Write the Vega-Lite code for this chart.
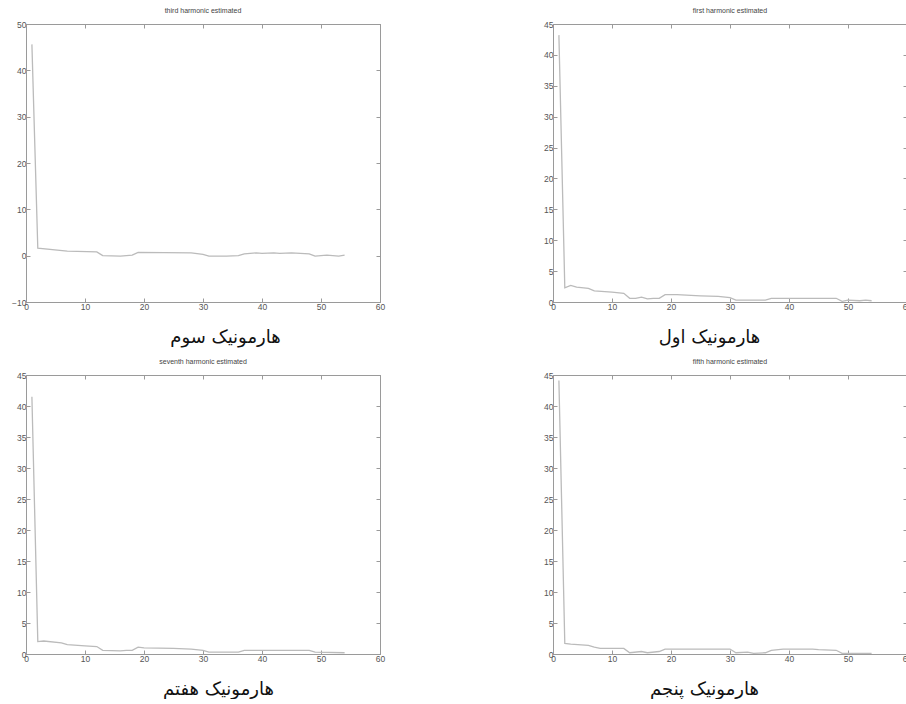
{
  "$schema": "https://vega.github.io/schema/vega-lite/v6.json",
  "background": "white",
  "padding": {"top": 6, "left": 1, "right": 0, "bottom": 0},
  "spacing": 10,
  "config": {
    "view": {"stroke": "#9a9a9a"},
    "axis": {"grid": false, "domainColor": "#9a9a9a", "tickColor": "#9a9a9a", "tickSize": -4, "labelFlush": false, "labelColor": "#555555", "labelFont": "Liberation Sans", "labelFontSize": 8.5, "titleFont": "DejaVu Sans", "titleFontSize": 18, "titleFontWeight": "normal", "titleColor": "#111111"},
    "title": {"font": "Liberation Sans", "fontSize": 7, "fontWeight": "normal", "color": "#444444", "offset": 6}
  },
  "vconcat": [
    {
      "spacing": 142,
      "hconcat": [
        {
          "title": "third harmonic estimated",
          "width": 354, "height": 278,
          "data": {"values": [
            {"n": 1, "v": 45.6}, {"n": 2, "v": 1.6}, {"n": 7, "v": 1.0}, {"n": 12, "v": 0.8}, {"n": 13, "v": 0.0}, {"n": 16, "v": -0.1}, {"n": 18, "v": 0.1}, {"n": 19, "v": 0.7}, {"n": 28, "v": 0.6}, {"n": 30, "v": 0.3}, {"n": 31, "v": -0.1}, {"n": 34, "v": -0.1}, {"n": 36, "v": 0.0}, {"n": 37, "v": 0.4}, {"n": 39, "v": 0.6}, {"n": 40, "v": 0.5}, {"n": 42, "v": 0.6}, {"n": 43, "v": 0.5}, {"n": 45, "v": 0.6}, {"n": 48, "v": 0.4}, {"n": 49, "v": -0.1}, {"n": 51, "v": 0.1}, {"n": 53, "v": -0.1}, {"n": 54, "v": 0.1}
          ]},
          "layer": [
            {"mark": {"type": "line", "color": "#bbbbbb", "strokeWidth": 1.3},
             "encoding": {
               "x": {"field": "n", "type": "quantitative", "scale": {"domain": [0, 60], "nice": false, "zero": false}, "axis": {"orient": "bottom", "values": [0, 10, 20, 30, 40, 50, 60], "labelPadding": 4, "title": "هارمونیک سوم", "titlePadding": 18, "titleX": 199}},
               "y": {"field": "v", "type": "quantitative", "scale": {"domain": [-10, 50], "nice": false, "zero": false}, "axis": {"orient": "left", "values": [-10, 0, 10, 20, 30, 40, 50], "labelPadding": 4, "title": null, "minExtent": 24, "maxExtent": 24}}
             }},
            {"mark": {"type": "line", "opacity": 0},
             "encoding": {
               "x": {"field": "n", "type": "quantitative", "axis": {"orient": "top", "values": [0, 10, 20, 30, 40, 50, 60], "labels": false, "title": null, "minExtent": 0, "maxExtent": 0}},
               "y": {"field": "v", "type": "quantitative", "axis": {"orient": "right", "values": [-10, 0, 10, 20, 30, 40, 50], "labels": false, "title": null, "minExtent": 0, "maxExtent": 0}}
             }}
          ],
          "resolve": {"axis": {"x": "independent", "y": "independent"}}
        },
        {
          "title": "first harmonic estimated",
          "width": 354, "height": 278,
          "data": {"values": [
            {"n": 1, "v": 43.2}, {"n": 2, "v": 2.3}, {"n": 3, "v": 2.7}, {"n": 4, "v": 2.4}, {"n": 6, "v": 2.2}, {"n": 7, "v": 1.8}, {"n": 10, "v": 1.6}, {"n": 12, "v": 1.4}, {"n": 13, "v": 0.6}, {"n": 14, "v": 0.6}, {"n": 15, "v": 0.8}, {"n": 16, "v": 0.5}, {"n": 17, "v": 0.6}, {"n": 18, "v": 0.6}, {"n": 19, "v": 1.2}, {"n": 21, "v": 1.2}, {"n": 25, "v": 1.0}, {"n": 28, "v": 0.9}, {"n": 30, "v": 0.7}, {"n": 31, "v": 0.3}, {"n": 36, "v": 0.3}, {"n": 37, "v": 0.6}, {"n": 48, "v": 0.6}, {"n": 49, "v": 0.1}, {"n": 50, "v": 0.3}, {"n": 52, "v": 0.2}, {"n": 53, "v": 0.3}, {"n": 54, "v": 0.2}
          ]},
          "layer": [
            {"mark": {"type": "line", "color": "#bbbbbb", "strokeWidth": 1.3},
             "encoding": {
               "x": {"field": "n", "type": "quantitative", "scale": {"domain": [0, 60], "nice": false, "zero": false}, "axis": {"orient": "bottom", "values": [0, 10, 20, 30, 40, 50, 60], "labelPadding": 4, "title": "هارمونیک اول", "titlePadding": 18, "titleX": 156}},
               "y": {"field": "v", "type": "quantitative", "scale": {"domain": [0, 45], "nice": false, "zero": false}, "axis": {"orient": "left", "values": [0, 5, 10, 15, 20, 25, 30, 35, 40, 45], "labelPadding": 4, "title": null, "minExtent": 24, "maxExtent": 24}}
             }},
            {"mark": {"type": "line", "opacity": 0},
             "encoding": {
               "x": {"field": "n", "type": "quantitative", "axis": {"orient": "top", "values": [0, 10, 20, 30, 40, 50, 60], "labels": false, "title": null, "minExtent": 0, "maxExtent": 0}},
               "y": {"field": "v", "type": "quantitative", "axis": {"orient": "right", "values": [0, 5, 10, 15, 20, 25, 30, 35, 40, 45], "labels": false, "title": null, "minExtent": 0, "maxExtent": 0}}
             }}
          ],
          "resolve": {"axis": {"x": "independent", "y": "independent"}}
        }
      ]
    },
    {
      "spacing": 142,
      "hconcat": [
        {
          "title": "seventh harmonic estimated",
          "width": 354, "height": 279,
          "data": {"values": [
            {"n": 1, "v": 41.5}, {"n": 2, "v": 2.0}, {"n": 3, "v": 2.1}, {"n": 6, "v": 1.8}, {"n": 7, "v": 1.5}, {"n": 10, "v": 1.3}, {"n": 12, "v": 1.2}, {"n": 13, "v": 0.6}, {"n": 16, "v": 0.5}, {"n": 17, "v": 0.6}, {"n": 18, "v": 0.6}, {"n": 19, "v": 1.1}, {"n": 20, "v": 1.0}, {"n": 25, "v": 0.9}, {"n": 28, "v": 0.8}, {"n": 30, "v": 0.6}, {"n": 31, "v": 0.3}, {"n": 36, "v": 0.3}, {"n": 37, "v": 0.6}, {"n": 48, "v": 0.6}, {"n": 49, "v": 0.3}, {"n": 54, "v": 0.2}
          ]},
          "layer": [
            {"mark": {"type": "line", "color": "#bbbbbb", "strokeWidth": 1.3},
             "encoding": {
               "x": {"field": "n", "type": "quantitative", "scale": {"domain": [0, 60], "nice": false, "zero": false}, "axis": {"orient": "bottom", "values": [0, 10, 20, 30, 40, 50, 60], "labelPadding": 4, "title": "هارمونیک هفتم", "titlePadding": 18, "titleX": 192}},
               "y": {"field": "v", "type": "quantitative", "scale": {"domain": [0, 45], "nice": false, "zero": false}, "axis": {"orient": "left", "values": [0, 5, 10, 15, 20, 25, 30, 35, 40, 45], "labelPadding": 4, "title": null, "minExtent": 24, "maxExtent": 24}}
             }},
            {"mark": {"type": "line", "opacity": 0},
             "encoding": {
               "x": {"field": "n", "type": "quantitative", "axis": {"orient": "top", "values": [0, 10, 20, 30, 40, 50, 60], "labels": false, "title": null, "minExtent": 0, "maxExtent": 0}},
               "y": {"field": "v", "type": "quantitative", "axis": {"orient": "right", "values": [0, 5, 10, 15, 20, 25, 30, 35, 40, 45], "labels": false, "title": null, "minExtent": 0, "maxExtent": 0}}
             }}
          ],
          "resolve": {"axis": {"x": "independent", "y": "independent"}}
        },
        {
          "title": "fifth harmonic estimated",
          "width": 354, "height": 279,
          "data": {"values": [
            {"n": 1, "v": 44.1}, {"n": 2, "v": 1.7}, {"n": 3, "v": 1.6}, {"n": 6, "v": 1.4}, {"n": 7, "v": 1.1}, {"n": 8, "v": 0.9}, {"n": 12, "v": 0.9}, {"n": 13, "v": 0.2}, {"n": 15, "v": 0.4}, {"n": 16, "v": 0.2}, {"n": 18, "v": 0.4}, {"n": 19, "v": 0.8}, {"n": 24, "v": 0.8}, {"n": 30, "v": 0.8}, {"n": 31, "v": 0.2}, {"n": 33, "v": 0.3}, {"n": 34, "v": 0.1}, {"n": 36, "v": 0.2}, {"n": 37, "v": 0.6}, {"n": 39, "v": 0.8}, {"n": 44, "v": 0.8}, {"n": 45, "v": 0.7}, {"n": 48, "v": 0.6}, {"n": 49, "v": 0.1}, {"n": 54, "v": 0.1}
          ]},
          "layer": [
            {"mark": {"type": "line", "color": "#bbbbbb", "strokeWidth": 1.3},
             "encoding": {
               "x": {"field": "n", "type": "quantitative", "scale": {"domain": [0, 60], "nice": false, "zero": false}, "axis": {"orient": "bottom", "values": [0, 10, 20, 30, 40, 50, 60], "labelPadding": 4, "title": "هارمونیک پنجم", "titlePadding": 18, "titleX": 151}},
               "y": {"field": "v", "type": "quantitative", "scale": {"domain": [0, 45], "nice": false, "zero": false}, "axis": {"orient": "left", "values": [0, 5, 10, 15, 20, 25, 30, 35, 40, 45], "labelPadding": 4, "title": null, "minExtent": 24, "maxExtent": 24}}
             }},
            {"mark": {"type": "line", "opacity": 0},
             "encoding": {
               "x": {"field": "n", "type": "quantitative", "axis": {"orient": "top", "values": [0, 10, 20, 30, 40, 50, 60], "labels": false, "title": null, "minExtent": 0, "maxExtent": 0}},
               "y": {"field": "v", "type": "quantitative", "axis": {"orient": "right", "values": [0, 5, 10, 15, 20, 25, 30, 35, 40, 45], "labels": false, "title": null, "minExtent": 0, "maxExtent": 0}}
             }}
          ],
          "resolve": {"axis": {"x": "independent", "y": "independent"}}
        }
      ]
    }
  ]
}
